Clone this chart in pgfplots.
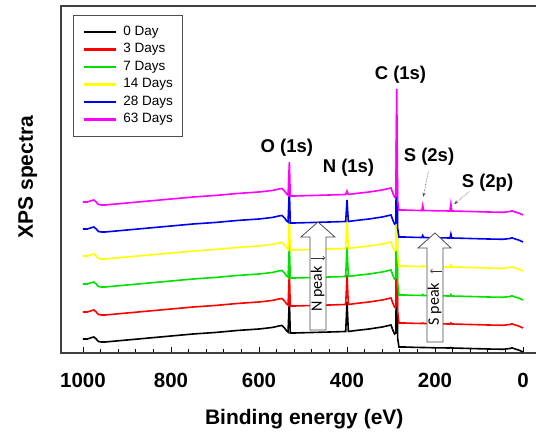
\documentclass[border=0pt]{standalone}
\usepackage{fontspec}
\setmainfont{Liberation Sans}
\newfontfamily\calib{Carlito}
\usepackage{pgfplots}
\usepackage{pgfplotstable}
\pgfplotsset{compat=1.18}
\usetikzlibrary{arrows.meta}

\definecolor{xgreen}{RGB}{0,225,0}
\definecolor{xyellow}{RGB}{255,255,0}
\definecolor{xblue}{RGB}{0,0,240}
\definecolor{xmagenta}{RGB}{255,0,255}
\definecolor{xred}{RGB}{255,0,0}

% binding energy (eV) and stacked intensity of each ageing time
\pgfplotstableread{
E    d0    d3    d7    d14   d28   d63
1000 14    41    69    97    124   151
990  14    41    69    97    124   151
980  15.5  42.5  70.5  98.5  125.5 152.5
975  16    43    71    99    126   153
970  14    41    69    97    124   151
965  11.5  38.5  66.5  94.5  121.5 148.5
958  11    38    66    94    121   148
950  11    38    66    94    121   148
900  13    40    68    96    123   150
850  15    42    70    98    125   152
800  17    44    72    100   127   154
750  19    46    74    102   129   156
700  20.5  47.5  75.5  103.5 130.5 157.5
650  22.5  49.5  77.5  105.5 132.5 159.5
600  24    51    79    107   134   161
570  25.5  52.5  80.5  108.5 135.5 162.5
555  27    54    82    110   137   164
548  27.5  54.5  82.5  110.5 137.5 164.5
542  25    52    80    108   135   162
537  22    49    77    105   132   159
534  21    48    76    104   131   158
531  54    81    109   137   164   191
529  20    47    75    103   130   157
520  20    47    75    103   130   157
480  20.5  47.5  75.5  103.5 130.5 157.5
440  21    48    76    104   131   158
403  21.5  48.5  76.5  104.5 131.5 158.5
400  51    78    106   136   153   162
397  21.5  48.5  76.5  104.5 131.5 158.5
380  22.5  49.5  77.5  105.5 132.5 159.5
350  24    51    79    107   134   161
320  26    53    81    109   136   163
305  27.5  54.5  82.5  110.5 137.5 164.5
300  28    55    83    111   138   165
296  23    50    78    106   133   160
292  19    46    74    102   129   156
289  20    47    75    103   130   157
287  127   154   182   210   237   264
285  15    42    70    98    125   152
282  6     30    58    87    116   143
270  6     30    58    87    116   143
250  5.7   29.7  57.7  86.7  115.7 142.7
230  5.5   29.5  57.5  86.5  115.5 142.5
228  5.5   30    58.5  87.5  117.5 147.5
226  5.5   29.5  57.5  86.5  115.5 142.5
200  5.2   29.2  57.2  86.2  115.2 142.2
166  5     29    57    86    115   142
164  5.5   30    58.5  88    119   149
162  5     29    57    86    115   142
120  4.5   28.5  56.5  85.5  114.5 141.5
80   4     28    56    85    114   141
45   3.7   27.7  55.7  84.7  113.7 140.7
30   4.5   28.5  56.5  85.5  114.5 141.5
25   5.2   29.2  57.2  86.2  115.2 142.2
18   4     28    56    85    114   141
10   3     27    55    84    113   140
5    2     26    54    83    112   139
0    1     25    53    82    111   138
}\xps

\begin{document}
\begin{tikzpicture}
\begin{axis}[
  at={(0,0)}, anchor=south west,
  width=477pt, height=347pt, scale only axis,
  x dir=reverse,
  xmin=-34, xmax=1050, ymin=0, ymax=347,
  xtick={0,200,...,1000}, minor x tick num=4,
  xtick pos=bottom, ytick=\empty,
  tick align=inside,
  major tick length=6pt, minor tick length=3.5pt,
  tick style={black, line width=0.8pt},
  axis line style={black!75, line width=1.1pt},
  /pgf/number format/assume math mode=true,
  /pgf/number format/1000 sep={},
  scaled ticks=false,
  xticklabel style={font=\fontsize{20.5}{24}\selectfont\bfseries, anchor=base, yshift=-35pt},
  xlabel={Binding energy (eV)},
  ylabel={XPS spectra},
  every axis x label/.style={at={(axis description cs:0.51,-0.2075)}, anchor=base, font=\fontsize{21}{25}\selectfont\bfseries},
  every axis y label/.style={at={(axis description cs:-0.0587,0.507)}, anchor=base, rotate=90, font=\fontsize{21}{25}\selectfont\bfseries},
  legend cell align=left,
  legend image code/.code={\draw[#1, line width=2.4pt] (0pt,0pt) -- (32pt,0pt); \path (38pt,0pt);},
  legend style={at={(axis description cs:0.025,0.974)}, anchor=north west,
    draw=black!70, line width=0.8pt, font=\fontsize{13.5}{16}\selectfont,
    row sep=2.5pt, inner xsep=9pt, inner ysep=9pt,
    nodes={inner sep=1pt, text height=10pt, text depth=3pt}},
]
\addplot[black, line width=1.6pt] table[x=E, y=d0] {\xps};
\addlegendentry{0 Day}
\addplot[xred, line width=1.6pt] table[x=E, y=d3] {\xps};
\addlegendentry{3 Days}
\addplot[xgreen, line width=1.6pt] table[x=E, y=d7] {\xps};
\addlegendentry{7 Days}
\addplot[xyellow, line width=1.6pt] table[x=E, y=d14] {\xps};
\addlegendentry{14 Days}
\addplot[xblue, line width=1.6pt] table[x=E, y=d28] {\xps};
\addlegendentry{28 Days}
\addplot[xmagenta, line width=1.6pt] table[x=E, y=d63] {\xps};
\addlegendentry{63 Days}

% peak names
\node[font=\fontsize{18.5}{22}\selectfont\bfseries, anchor=base] at (axis cs:278.5,273) {C (1s)};
\node[font=\fontsize{18.5}{22}\selectfont\bfseries, anchor=base] at (axis cs:536.6,200) {O (1s)};
\node[font=\fontsize{18.5}{22}\selectfont\bfseries, anchor=base] at (axis cs:396.7,180) {N (1s)};
\node[font=\fontsize{18.5}{22}\selectfont\bfseries, anchor=base] at (axis cs:213.7,191) {S (2s)};
\node[font=\fontsize{18.5}{22}\selectfont\bfseries, anchor=base] at (axis cs:80.7,165) {S (2p)};
\draw[densely dotted, black!75, line width=0.6pt, -{Stealth[length=4pt]}] (axis cs:215.3,181.3) -- (axis cs:226.7,156.3);
\draw[densely dotted, black!75, line width=0.6pt, -{Stealth[length=4pt]}] (axis cs:122.1,161.3) -- (axis cs:156.2,149);

% block arrows
\draw[black!70, fill=white, line width=0.8pt] (axis cs:484.3,23) -- (axis cs:484.3,116) -- (axis cs:504.8,116)
  -- (axis cs:466.1,131) -- (axis cs:427.5,116) -- (axis cs:447.9,116) -- (axis cs:447.9,23) -- cycle;
\node[rotate=90, font=\calib\fontsize{16}{18}\selectfont] at (axis cs:467,64) {N peak};
\draw[black!80, line width=0.5pt, -{Straight Barb[length=2pt]}] (axis cs:482,95) -- (axis cs:450,95);

\draw[black!70, fill=white, line width=0.8pt] (axis cs:218.3,11) -- (axis cs:218.3,105) -- (axis cs:238.7,105)
  -- (axis cs:200.1,120) -- (axis cs:163.7,105) -- (axis cs:181.9,105) -- (axis cs:181.9,11) -- cycle;
\node[rotate=90, font=\calib\fontsize{16}{18}\selectfont] at (axis cs:200.7,49) {S peak};
\draw[black!80, line width=0.5pt, -{Straight Barb[length=2pt]}] (axis cs:184,82) -- (axis cs:211,82);
\end{axis}
\pgfresetboundingbox
\useasboundingbox (-61pt,-82pt) rectangle (475pt,353pt);
\end{tikzpicture}
\end{document}
